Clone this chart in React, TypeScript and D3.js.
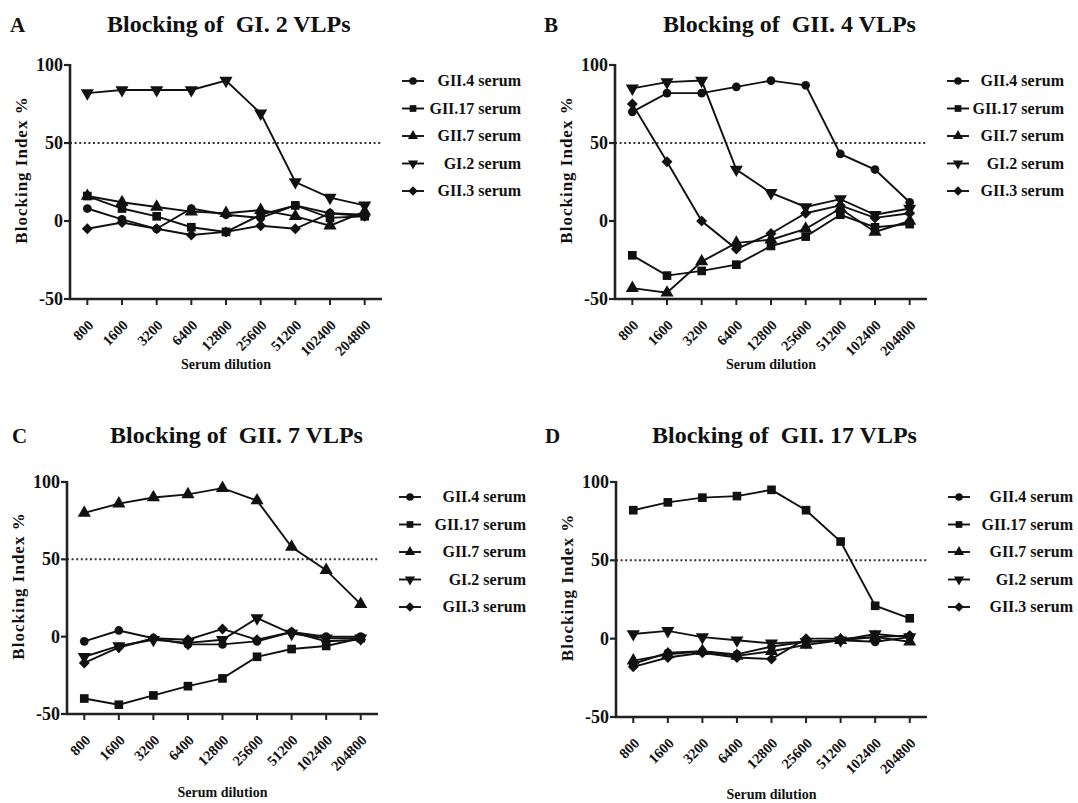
import React from 'react';
import * as d3 from 'd3';

// ---------- data ----------
const dilutions = ['800', '1600', '3200', '6400', '12800', '25600', '51200', '102400', '204800'];
const seriesNames = ['GII.4 serum', 'GII.17 serum', 'GII.7 serum', 'GI.2 serum', 'GII.3 serum'];
const seriesSymbols = ['circle', 'square', 'triangle', 'triangleDown', 'diamond'];
const yTicks = [100, 50, 0, -50];
const thresholdValue = 50;
const panelLetters = ['A', 'B', 'C', 'D'];
const panelTitles = ['Blocking of  GI. 2 VLPs', 'Blocking of  GII. 4 VLPs', 'Blocking of  GII. 7 VLPs', 'Blocking of  GII. 17 VLPs'];
const xAxisTitle = 'Serum dilution';
const yAxisTitle = 'Blocking Index %';

// Panel A: GI.2 VLPs
const aGII4 = [8, 1, -5, 8, 4, 2, 10, 5, 4];
const aGII17 = [16, 8, 3, -4, -7, 4, 10, 2, 3];
const aGII7 = [16, 12, 9, 6, 5, 7, 3, -3, 6];
const aGI2 = [82, 84, 84, 84, 90, 69, 25, 15, 10];
const aGII3 = [-5, -1, -5, -9, -7, -3, -5, 5, 3];

// Panel B: GII.4 VLPs
const bGII4 = [70, 82, 82, 86, 90, 87, 43, 33, 12];
const bGII17 = [-22, -35, -32, -28, -16, -10, 4, -4, -2];
const bGII7 = [-43, -46, -26, -14, -12, -5, 8, -7, 0];
const bGI2 = [85, 89, 90, 33, 18, 9, 14, 4, 8];
const bGII3 = [75, 38, 0, -18, -8, 5, 10, 2, 5];

// Panel C: GII.7 VLPs
const cGII4 = [-3, 4, -1, -5, -5, -3, 3, 0, 0];
const cGII17 = [-40, -44, -38, -32, -27, -13, -8, -6, -1];
const cGII7 = [80, 86, 90, 92, 96, 88, 58, 43, 21];
const cGI2 = [-13, -6, -2, -4, -2, 12, 2, -1, -1];
const cGII3 = [-17, -7, -1, -2, 5, -2, 3, -3, -2];

// Panel D: GII.17 VLPs
const dGII4 = [-16, -9, -8, -10, -5, -2, -1, -2, 1];
const dGII17 = [82, 87, 90, 91, 95, 82, 62, 21, 13];
const dGII7 = [-14, -10, -8, -11, -8, -4, -1, 1, -2];
const dGI2 = [3, 5, 1, -1, -3, -2, -1, 3, 1];
const dGII3 = [-18, -12, -9, -12, -13, 0, 0, 1, 2];

const panelSeries = [
  [aGII4, aGII17, aGII7, aGI2, aGII3],
  [bGII4, bGII17, bGII7, bGI2, bGII3],
  [cGII4, cGII17, cGII7, cGI2, cGII3],
  [dGII4, dGII17, dGII7, dGI2, dGII3],
];

// ---------- layout ----------
const layouts = [
  { axisX: 70, xEnd: 382, yTop: 65, yBottom: 299, letterX: 10, titleX: 107, titleY: 32, legX: 413, legEnd: 521, legY: 81, xTitleOff: 70 },
  { axisX: 615, xEnd: 927, yTop: 65, yBottom: 299, letterX: 544, titleX: 663, titleY: 32, legX: 958, legEnd: 1064, legY: 81, xTitleOff: 70 },
  { axisX: 67, xEnd: 378, yTop: 482, yBottom: 714, letterX: 12, titleX: 110, titleY: 443, legX: 410, legEnd: 526, legY: 497, xTitleOff: 83 },
  { axisX: 616, xEnd: 927, yTop: 482, yBottom: 717, letterX: 545, titleX: 652, titleY: 443, legX: 959, legEnd: 1073, legY: 497, xTitleOff: 82 },
];

const FONT = '"Liberation Serif", "Times New Roman", Times, serif';
const INK = '#111';

function symbolPath(kind: string, size: number) {
  if (kind === 'circle') return d3.symbol(d3.symbolCircle, size)();
  if (kind === 'square') return d3.symbol(d3.symbolSquare, size)();
  if (kind === 'triangle' || kind === 'triangleDown') return d3.symbol(d3.symbolTriangle, size)();
  return d3.symbol(d3.symbolSquare, size)();
}
function symbolRotate(kind: string) {
  if (kind === 'triangleDown') return 180;
  if (kind === 'diamond') return 45;
  return 0;
}

function Panel({ idx }: { idx: number }) {
  const L = layouts[idx];
  const x = d3.scalePoint<string>().domain(dilutions).range([L.axisX, L.xEnd]).padding(0.5);
  const y = d3.scaleLinear().domain([-50, 100]).range([L.yBottom, L.yTop]);
  const line = d3.line<number>().x((_, i) => x(dilutions[i]) as number).y((d) => y(d));
  const series = panelSeries[idx];
  const xMid = (L.axisX + L.xEnd) / 2;
  const yMid = (L.yTop + L.yBottom) / 2 - 12;
  return (
    <g>
      <text x={L.letterX} y={L.titleY} fontFamily={FONT} fontWeight="bold" fontSize={21} fill={INK}>{panelLetters[idx]}</text>
      <text x={L.titleX} y={L.titleY} fontFamily={FONT} fontWeight="bold" fontSize={24} fill={INK} style={{ whiteSpace: 'pre' }}>{panelTitles[idx]}</text>

      {/* threshold dotted line */}
      <line x1={L.axisX} x2={L.xEnd} y1={y(thresholdValue)} y2={y(thresholdValue)} stroke="#333" strokeWidth={2} strokeDasharray="2,2.6" />

      {/* series */}
      {series.map((vals, s) => (
        <g key={s}>
          <path d={line(vals) || ''} fill="none" stroke={INK} strokeWidth={1.9} />
          {vals.map((v, i) => (
            <path key={i} d={symbolPath(seriesSymbols[s], seriesSymbols[s] === 'circle' ? 60 : seriesSymbols[s] === 'diamond' ? 60 : 75) || ''}
              transform={`translate(${x(dilutions[i])},${y(v)}) rotate(${symbolRotate(seriesSymbols[s])})`} fill={INK} />
          ))}
        </g>
      ))}

      {/* y axis */}
      <line x1={L.axisX} x2={L.axisX} y1={L.yTop - 1} y2={L.yBottom + 1} stroke="#222" strokeWidth={2.6} />
      {yTicks.map((t) => (
        <g key={t}>
          <line x1={L.axisX - 6} x2={L.axisX} y1={y(t)} y2={y(t)} stroke="#222" strokeWidth={2.2} />
          <text x={L.axisX - 7} y={y(t) + 6} textAnchor="end" fontFamily={FONT} fontWeight="bold" fontSize={18} fill={INK}>{t}</text>
        </g>
      ))}
      <text transform={`translate(${L.axisX - 43},${yMid}) rotate(-90)`} textAnchor="middle" fontFamily={FONT} fontWeight="bold" fontSize={17} letterSpacing={1} fill={INK}>{yAxisTitle}</text>

      {/* x axis */}
      <line x1={L.axisX - 1} x2={L.xEnd} y1={L.yBottom} y2={L.yBottom} stroke="#222" strokeWidth={2.6} />
      {dilutions.map((d) => (
        <g key={d}>
          <line x1={x(d)} x2={x(d)} y1={L.yBottom} y2={L.yBottom + 6} stroke="#222" strokeWidth={2} />
          <text transform={`translate(${(x(d) as number) + 7},${L.yBottom + 27}) rotate(-45)`} textAnchor="end" fontFamily={FONT} fontWeight="bold" fontSize={14.5} fill={INK}>{d}</text>
        </g>
      ))}
      <text x={xMid} y={L.yBottom + L.xTitleOff} textAnchor="middle" fontFamily={FONT} fontWeight="bold" fontSize={14} fill={INK}>{xAxisTitle}</text>

      {/* legend */}
      {seriesNames.map((name, s) => {
        const ly = L.legY + s * 27.5;
        return (
          <g key={name}>
            <line x1={L.legX - 11} x2={L.legX + 11} y1={ly} y2={ly} stroke={INK} strokeWidth={1.9} />
            <path d={symbolPath(seriesSymbols[s], 45) || ''} transform={`translate(${L.legX},${ly}) rotate(${symbolRotate(seriesSymbols[s])})`} fill={INK} />
            <text x={L.legEnd} y={ly + 5} textAnchor="end" fontFamily={FONT} fontWeight="bold" fontSize={16} fill={INK}>{name}</text>
          </g>
        );
      })}
    </g>
  );
}

export default function App() {
  return (
    <svg width={1078} height={803} viewBox="0 0 1078 803" style={{ position: 'absolute', left: 0, top: 0, background: '#fff' }}>
      <rect width={1078} height={803} fill="#fff" />
      {[0, 1, 2, 3].map((i) => <Panel key={i} idx={i} />)}
    </svg>
  );
}
